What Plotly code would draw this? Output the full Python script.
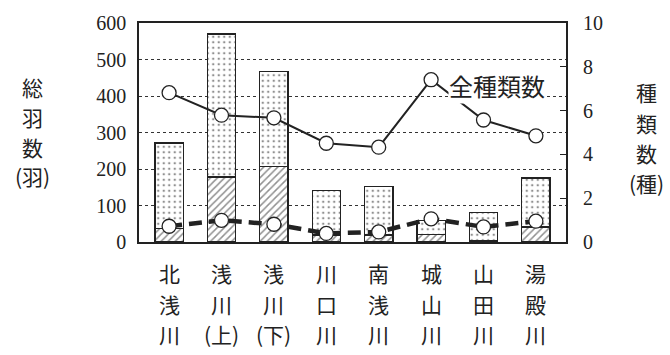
import plotly.graph_objects as go

# 調査地点（縦書きラベルは1行ずつ）
rivers = ["北浅川", "浅川(上)", "浅川(下)", "川口川", "南浅川", "城山川", "山田川", "湯殿川"]
river_rows = [["北", "浅", "川"], ["浅", "川", "(上)"], ["浅", "川", "(下)"], ["川", "口", "川"],
              ["南", "浅", "川"], ["城", "山", "川"], ["山", "田", "川"], ["湯", "殿", "川"]]

# 総羽数（羽）: 合計と斜線部分
total_birds = [271, 570, 468, 142, 153, 59, 81, 175]
hatched_birds = [37, 178, 206, 19, 19, 21, 5, 41]
dotted_birds = [t - h for t, h in zip(total_birds, hatched_birds)]

# 種類数（種）
all_species = [6.82, 5.79, 5.67, 4.51, 4.33, 7.41, 5.57, 4.85]
sub_species = [0.72, 0.99, 0.81, 0.39, 0.46, 1.06, 0.69, 0.95]

left_ticks = [0, 100, 200, 300, 400, 500, 600]
right_ticks = [0, 2, 4, 6, 8, 10]

left_title = ["総", "羽", "数", "(羽)"]
right_title = ["種", "類", "数", "(種)"]

INK = "#222222"
JP = "Noto Sans CJK JP"
NUM = "Liberation Serif"

W, H = 670, 355
ML, MR, MT, MB = 139, 104, 18, 113
PLOT_H = H - MT - MB


def paper_y(py):
    """画素位置（上端から）を paper 座標へ変換"""
    return (H - MB - py) / PLOT_H


def paper_x(px):
    return (px - ML) / (W - ML - MR)


fig = go.Figure()

fig.add_trace(go.Bar(
    x=rivers, y=hatched_birds,
    marker=dict(color="white", line=dict(color=INK, width=1.3),
                pattern=dict(shape="/", fgcolor=INK, bgcolor="white",
                             size=5, solidity=0.3)),
    showlegend=False,
))
fig.add_trace(go.Bar(
    x=rivers, y=dotted_birds,
    marker=dict(color="white", line=dict(color=INK, width=1.3),
                pattern=dict(shape=".", fgcolor=INK, bgcolor="white",
                             size=5.5, solidity=0.16)),
    showlegend=False,
))

fig.add_trace(go.Scatter(
    x=rivers, y=all_species, yaxis="y2", mode="lines+markers",
    line=dict(color=INK, width=2),
    marker=dict(size=14, color="white", line=dict(color=INK, width=1.3)),
    showlegend=False,
))
fig.add_trace(go.Scatter(
    x=rivers, y=sub_species, yaxis="y2", mode="lines+markers",
    line=dict(color=INK, width=4.5, dash="13px,7px"),
    marker=dict(size=14, color="white", line=dict(color=INK, width=1.3)),
    showlegend=False,
))

# 全種類数の系列名
fig.add_annotation(
    x=rivers[6], y=7.14, yref="y2", xshift=13,
    text="全種類数", showarrow=False, xanchor="center", yanchor="middle",
    font=dict(family=JP, size=24, color=INK),
    bgcolor="white", borderpad=0,
)

# x軸の縦書きラベル
row_py = [274, 305, 336]
for name, rows in zip(rivers, river_rows):
    for ch, py in zip(rows, row_py):
        fig.add_annotation(
            x=name, xref="x", yref="paper", y=paper_y(py),
            text=ch, showarrow=False, xanchor="center", yanchor="middle",
            font=dict(family=JP, size=21, color=INK),
        )

# 左右の縦書き軸タイトル
for ch, py in zip(left_title, [83, 114, 145, 175]):
    fig.add_annotation(
        xref="paper", yref="paper", x=paper_x(32), y=paper_y(py),
        text=ch, showarrow=False, xanchor="center", yanchor="middle",
        font=dict(family=JP, size=21, color=INK),
    )
for ch, py in zip(right_title, [89, 120, 151, 182]):
    fig.add_annotation(
        xref="paper", yref="paper", x=paper_x(646), y=paper_y(py),
        text=ch, showarrow=False, xanchor="center", yanchor="middle",
        font=dict(family=JP, size=21, color=INK),
    )

fig.update_layout(
    width=W, height=H,
    margin=dict(l=ML, r=MR, t=MT, b=MB),
    paper_bgcolor="white", plot_bgcolor="white",
    barmode="stack", bargap=0.46,
    xaxis=dict(
        showline=True, linecolor=INK, linewidth=1.5, mirror=True,
        ticks="", showticklabels=False, showgrid=False,
    ),
    yaxis=dict(
        range=[0, 600], tickvals=left_ticks,
        showline=True, linecolor=INK, linewidth=1.5, mirror=True,
        showgrid=True, gridcolor="#333", griddash="dot", gridwidth=1,
        ticks="", ticklabelstandoff=7,
        tickfont=dict(family=NUM, size=20, color=INK),
        zeroline=False,
    ),
    yaxis2=dict(
        range=[0, 10], tickvals=right_ticks, overlaying="y", side="right",
        showgrid=False, zeroline=False,
        ticks="inside", ticklen=6, tickcolor=INK, tickwidth=1.3,
        ticklabelstandoff=16,
        tickfont=dict(family=NUM, size=20, color=INK),
    ),
)

fig.write_html("out.html")
